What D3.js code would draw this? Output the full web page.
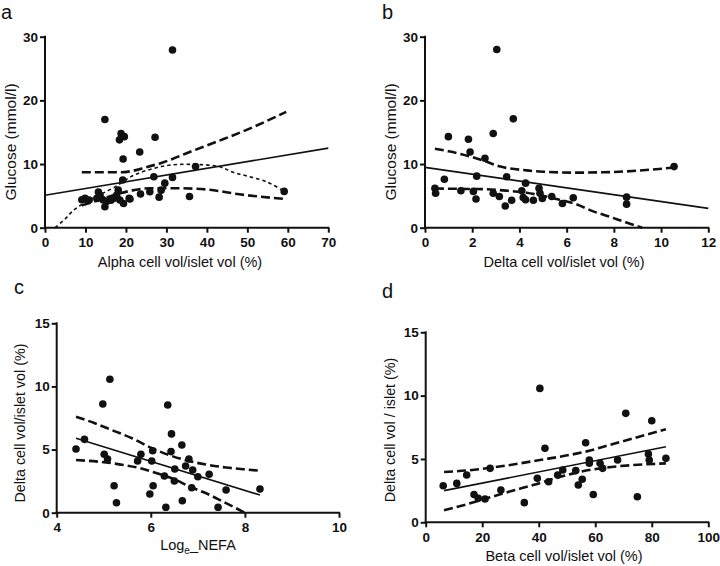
<!DOCTYPE html>
<html>
<head>
<meta charset="utf-8">
<script src="https://cdn.jsdelivr.net/npm/d3@7"></script>
<style>
  html, body { margin: 0; padding: 0; background: #fff; }
  svg text { font-family: Arial, "Liberation Sans", sans-serif; fill: #111; }
</style>
</head>
<body>
<svg id="chart" width="720" height="566"></svg>
<script>
// ---------------- DATA ----------------
// Panel a: Alpha cell vol/islet vol (%) vs Glucose (mmol/l)
const aX = [31.5, 14.8, 18.8, 19.6, 18.4, 27.2, 23.4, 19.3, 19.2, 26.9, 31.5, 37.2, 59.1, 35.7, 29.6, 28.7, 28.2, 25.9, 23.6, 21.0, 20.8, 19.4, 18.5, 18.1, 17.7, 16.9, 16.3, 15.2, 14.8, 14.3, 13.6, 13.2, 12.8, 10.9, 9.9, 9.1];
const aY = [27.9, 17.0, 14.8, 14.3, 13.8, 14.2, 11.9, 10.8, 7.5, 8.0, 7.9, 9.6, 5.7, 4.9, 7.0, 5.9, 4.8, 5.65, 5.3, 4.5, 4.6, 3.8, 4.35, 5.9, 5.1, 4.6, 4.3, 4.1, 3.3, 4.4, 5.1, 5.6, 4.6, 4.35, 4.6, 4.4];
const aFitX = [0, 70], aFitY = [5.1, 12.5];
const aUpX = [9.1, 14, 18.5, 21.8, 25, 28.4, 31.5, 35, 42.4, 50.7, 59.6];
const aUpY = [8.7, 8.7, 8.7, 8.95, 9.5, 10.1, 10.8, 11.7, 13.5, 15.6, 18.2];
const aLoX = [9.1, 14, 18.5, 22, 26, 32, 40, 48, 59.6];
const aLoY = [3.5, 4.5, 5.4, 5.9, 6.2, 6.2, 6.0, 5.25, 4.5];
const aCurveX = [2.5, 5, 7, 9.5, 13, 17, 21.8, 26.8, 31, 36, 43, 46.5, 50, 54.8, 59.1];
const aCurveY = [0, 1.4, 2.7, 3.8, 5.0, 6.3, 8.2, 9.3, 9.85, 9.95, 9.6, 8.7, 8.1, 7.2, 5.7];
const aXTicks = [0, 10, 20, 30, 40, 50, 60, 70];
const aYTicks = [0, 10, 20, 30];

// Panel b: Delta cell vol/islet vol (%) vs Glucose (mmol/l)
const bX = [3.04, 3.74, 0.99, 1.84, 2.89, 1.91, 2.54, 0.82, 2.19, 3.46, 4.26, 10.55, 8.54, 8.54, 0.42, 0.45, 1.52, 2.05, 2.16, 2.89, 3.15, 3.4, 3.67, 4.1, 4.16, 4.26, 4.59, 4.83, 4.87, 4.97, 5.37, 5.82, 6.28];
const bY = [28.0, 17.1, 14.3, 13.9, 14.8, 11.9, 10.9, 7.6, 8.1, 8.0, 7.0, 9.6, 4.8, 3.7, 6.2, 5.4, 5.8, 5.7, 4.5, 5.4, 4.9, 3.4, 4.3, 5.8, 4.75, 4.4, 4.3, 6.2, 5.4, 4.6, 4.9, 3.8, 4.7];
const bFitX = [0, 12], bFitY = [9.48, 3.04];
const bUpX = [0.42, 1.0, 1.9, 2.5, 3.2, 4.3, 5.0, 6.4, 7.5, 8.54, 9.5, 10.55];
const bUpY = [12.4, 12.0, 11.2, 10.5, 9.6, 9.0, 8.8, 8.65, 8.7, 8.85, 9.1, 9.45];
const bLoX = [0.42, 1.5, 2.5, 3.5, 4.3, 5.0, 5.7, 6.4, 7.1, 7.8, 8.5, 9.2];
const bLoY = [6.15, 6.1, 6.05, 5.8, 5.5, 5.0, 4.4, 3.7, 2.6, 1.75, 0.85, 0];
const bXTicks = [0, 2, 4, 6, 8, 10, 12];
const bYTicks = [0, 10, 20, 30];

// Panel c: Loge NEFA vs Delta cell vol/islet vol (%)
const cX = [5.13, 4.98, 6.36, 6.44, 6.66, 4.59, 4.41, 5.01, 5.08, 6.04, 6.43, 5.79, 5.72, 6.02, 6.81, 6.74, 6.89, 6.51, 7.0, 7.24, 6.29, 6.5, 6.87, 6.05, 5.22, 5.98, 7.6, 8.32, 5.27, 6.32, 6.67, 7.43];
const cY = [10.57, 8.61, 8.53, 6.24, 5.36, 5.81, 5.05, 4.63, 4.25, 4.91, 4.84, 4.63, 4.1, 4.1, 4.25, 3.7, 3.38, 3.46, 2.85, 3.04, 2.91, 2.51, 1.98, 2.14, 2.14, 1.48, 1.8, 1.88, 0.79, 0.43, 0.95, 0.43];
const cFitX = [4.41, 8.32], cFitY = [5.89, 1.4];
const cUpX = [4.41, 4.8, 5.2, 5.6, 6.0, 6.4, 6.8, 7.2, 7.6, 8.0, 8.32];
const cUpY = [7.6, 7.1, 6.5, 5.9, 5.15, 4.55, 4.1, 3.8, 3.58, 3.43, 3.33];
const cLoX = [4.41, 5.0, 5.42, 5.8, 6.13, 6.5, 6.83, 7.2, 7.54, 8.0];
const cLoY = [4.17, 4.0, 3.78, 3.5, 3.12, 2.65, 2.06, 1.5, 0.87, 0];
const cXTicks = [4, 6, 8, 10];
const cYTicks = [0, 5, 10, 15];

// Panel d: Beta cell vol/islet vol (%) vs Delta cell vol / islet (%)
const dX = [6.2, 11, 14.5, 17.1, 18.6, 21, 22.8, 26.6, 34.9, 39.5, 40.4, 42.2, 43.5, 46.7, 48.5, 53.1, 54, 55.4, 56.6, 57.9, 57.9, 59.3, 61.7, 62.6, 67.9, 70.8, 74.9, 80, 78.8, 79.1, 85];
const dY = [2.89, 3.07, 3.73, 2.2, 1.89, 1.84, 4.26, 2.55, 1.55, 3.47, 10.57, 5.84, 3.2, 3.73, 4.13, 4.08, 2.94, 3.4, 6.28, 4.92, 4.66, 2.2, 4.66, 4.26, 4.92, 8.6, 2.02, 8.02, 5.39, 4.92, 5.05];
const dFitX = [6.5, 85], dFitY = [2.5, 5.97];
const dUpX = [6.5, 15, 22.8, 32, 40.4, 48, 57, 65, 73.5, 85];
const dUpY = [3.97, 4.1, 4.3, 4.6, 4.92, 5.2, 5.6, 6.1, 6.63, 7.34];
const dLoX = [6.5, 15, 22.8, 30, 38, 44, 49.9, 55, 61.7, 73.5, 85];
const dLoY = [0.95, 1.45, 1.97, 2.45, 2.94, 3.35, 3.73, 4.0, 4.26, 4.52, 4.65];
const dXTicks = [0, 20, 40, 60, 80, 100];
const dYTicks = [0, 5, 10, 15];

// ---------------- DRAW ----------------
const svg = d3.select("#chart");
const zip = (xs, ys) => xs.map((x, i) => [x, ys[i]]);

const panels = [
  { letter: "a", lx: 1, ly: 18.5, box: [45, 328.3, 36.7, 227.7],
    xs: aX, ys: aY, xd: [0, 70], yd: [0, 30], xt: aXTicks, yt: aYTicks,
    fit: zip(aFitX, aFitY), up: zip(aUpX, aUpY), lo: zip(aLoX, aLoY), curve: zip(aCurveX, aCurveY),
    xTitle: "Alpha cell vol/islet vol (%)", xtx: 180, xty: 267,
    yTitle: "Glucose (mmol/l)", ytx: 10, yty: 142, ytSize: 15.5 },
  { letter: "b", lx: 382, ly: 18.5, box: [425, 708.3, 36.7, 227.7],
    xs: bX, ys: bY, xd: [0, 12], yd: [0, 30], xt: bXTicks, yt: bYTicks,
    fit: zip(bFitX, bFitY), up: zip(bUpX, bUpY), lo: zip(bLoX, bLoY),
    xTitle: "Delta cell vol/islet vol (%)", xtx: 564, xty: 267,
    yTitle: "Glucose (mmol/l)", ytx: 390, yty: 142, ytSize: 15.5 },
  { letter: "c", lx: 14, ly: 294, box: [56.7, 339, 323.3, 512.7],
    xs: cX, ys: cY, xd: [4, 10], yd: [0, 15], xt: cXTicks, yt: cYTicks,
    fit: zip(cFitX, cFitY), up: zip(cUpX, cUpY), lo: zip(cLoX, cLoY),
    xTitle: null, xtx: 198, xty: 550,
    yTitle: "Delta cell vol/islet vol (%)", ytx: 20, yty: 423, ytSize: 14.3 },
  { letter: "d", lx: 382, ly: 298, box: [425.7, 708.3, 332.3, 522.3],
    xs: dX, ys: dY, xd: [0, 100], yd: [0, 15], xt: dXTicks, yt: dYTicks,
    fit: zip(dFitX, dFitY), up: zip(dUpX, dUpY), lo: zip(dLoX, dLoY),
    xTitle: "Beta cell vol/islet vol (%)", xtx: 564, xty: 561,
    yTitle: "Delta cell vol / islet (%)", ytx: 390, yty: 430, ytSize: 14.3 }
];

panels.forEach(p => {
  const [x0, x1, y0, y1] = p.box;
  const x = d3.scaleLinear().domain(p.xd).range([x0, x1]);
  const y = d3.scaleLinear().domain(p.yd).range([y1, y0]);
  const g = svg.append("g");

  // panel letter
  g.append("text").attr("x", p.lx).attr("y", p.ly)
    .style("font-size", "20px").text(p.letter);

  // axes
  const xa = g.append("g").attr("transform", `translate(0,${y1})`)
    .call(d3.axisBottom(x).tickValues(p.xt).tickFormat(d3.format("d")).tickSize(5).tickSizeOuter(0).tickPadding(5));
  const ya = g.append("g").attr("transform", `translate(${x0},0)`)
    .call(d3.axisLeft(y).tickValues(p.yt).tickFormat(d3.format("d")).tickSize(5).tickSizeOuter(0).tickPadding(2));
  [xa, ya].forEach(a => {
    a.select(".domain").attr("stroke", "#111").attr("stroke-width", 2);
    a.selectAll(".tick line").attr("stroke", "#111").attr("stroke-width", 2);
    a.selectAll(".tick text").attr("fill", "#111")
      .style("font-size", "13.5px").style("font-weight", "bold")
      .style("font-family", "Arial, 'Liberation Sans', sans-serif");
  });
  xa.select(".domain").attr("d", `M${x0 - 1},0H${x1 + 1}`);
  ya.select(".domain").attr("d", `M0,${y1 + 1}V${y0 - 1}`);

  const line = d3.line().x(d => x(d[0])).y(d => y(d[1]));
  const smooth = d3.line().curve(d3.curveMonotoneX).x(d => x(d[0])).y(d => y(d[1]));

  // confidence bands
  [p.up, p.lo].forEach(band => {
    g.append("path").attr("d", smooth(band)).attr("fill", "none")
      .attr("stroke", "#111").attr("stroke-width", 2.6).attr("stroke-dasharray", "9,4");
  });
  // fitted line
  g.append("path").attr("d", line(p.fit)).attr("fill", "none")
    .attr("stroke", "#111").attr("stroke-width", 1.6);
  // optional nonlinear curve
  if (p.curve) {
    g.append("path").attr("d", d3.line().curve(d3.curveCatmullRom).x(d => x(d[0])).y(d => y(d[1]))(p.curve))
      .attr("fill", "none").attr("stroke", "#111").attr("stroke-width", 1.6).attr("stroke-dasharray", "3.5,3");
  }

  // points
  g.selectAll("circle.pt").data(zip(p.xs, p.ys)).enter().append("circle")
    .attr("class", "pt").attr("cx", d => x(d[0])).attr("cy", d => y(d[1]))
    .attr("r", 3.8).attr("fill", "#111");

  // x title
  const xt = g.append("text").attr("x", p.xtx).attr("y", p.xty)
    .attr("text-anchor", "middle").style("font-size", "14.5px");
  if (p.xTitle) {
    xt.text(p.xTitle);
  } else {
    xt.append("tspan").text("Log");
    xt.append("tspan").attr("dy", 4).style("font-size", "10px").text("e");
    xt.append("tspan").attr("dy", -4).text("_NEFA");
  }

  // y title
  g.append("text")
    .attr("transform", `translate(${p.ytx + 0.36 * p.ytSize},${p.yty}) rotate(-90)`)
    .attr("text-anchor", "middle").style("font-size", p.ytSize + "px")
    .text(p.yTitle);
});
</script>
</body>
</html>
